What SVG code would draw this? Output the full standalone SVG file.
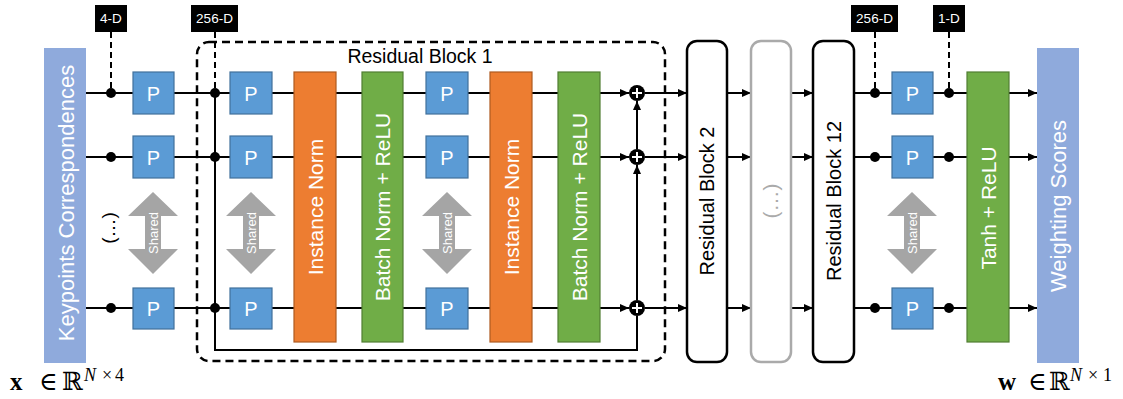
<svg xmlns="http://www.w3.org/2000/svg" width="1123" height="399" viewBox="0 0 1123 399">
<style>
.ln{stroke:#000;stroke-width:2;fill:none}
.dash{stroke:#000;stroke-width:2;fill:none;stroke-dasharray:6 4}
.io{fill:#8faadc}
.p{fill:#5b9bd5;stroke:#41719c;stroke-width:1.2}
.or{fill:#ed7d31;stroke:#ae5a21;stroke-width:1.2}
.gr{fill:#70ad47;stroke:#507e32;stroke-width:1.2}
.sh{fill:#a5a5a5}
.rb{fill:#fff;stroke:#000;stroke-width:2.5}
.rbg{fill:#fff;stroke:#aaaaaa;stroke-width:2.5}
.dim{fill:#000}
.t{font-family:"Liberation Sans",Arial,sans-serif}
.wt{fill:#fff}
.ptxt{font-size:20px;text-anchor:middle}
.lbl{font-size:21px;text-anchor:middle}
.shtxt{font-size:13px;text-anchor:middle;fill:#fff}
.dtxt{font-size:13.5px;text-anchor:middle;fill:#fff}
.math{font-family:"Liberation Serif","DejaVu Serif",serif;font-size:25px;fill:#000}
.sup{font-size:18px}
</style>
<defs>
<marker id="ah" markerWidth="9" markerHeight="8" refX="9" refY="4" orient="auto" markerUnits="userSpaceOnUse"><path d="M0,0 L9,4 L0,8 z" fill="#000"/></marker>
</defs>

<g id="connectors">
<line class="ln" x1="86" y1="93" x2="629" y2="93" marker-end="url(#ah)"/>
<line class="ln" x1="86" y1="157" x2="629" y2="157" marker-end="url(#ah)"/>
<line class="ln" x1="86" y1="308" x2="629" y2="308" marker-end="url(#ah)"/>
<polyline class="ln" points="215,93 215,350 637,350 637,316"/>
<line class="ln" x1="637" y1="300" x2="637" y2="165" marker-end="url(#ah)"/>
<line class="ln" x1="637" y1="149" x2="637" y2="101" marker-end="url(#ah)"/>
<line class="ln" x1="645" y1="93" x2="687" y2="93" marker-end="url(#ah)"/>
<line class="ln" x1="645" y1="157" x2="687" y2="157" marker-end="url(#ah)"/>
<line class="ln" x1="645" y1="308" x2="687" y2="308" marker-end="url(#ah)"/>
<line class="ln" x1="727" y1="93" x2="751" y2="93" marker-end="url(#ah)"/>
<line class="ln" x1="727" y1="157" x2="751" y2="157" marker-end="url(#ah)"/>
<line class="ln" x1="727" y1="308" x2="751" y2="308" marker-end="url(#ah)"/>
<line class="ln" x1="791" y1="93" x2="813" y2="93" marker-end="url(#ah)"/>
<line class="ln" x1="791" y1="157" x2="813" y2="157" marker-end="url(#ah)"/>
<line class="ln" x1="791" y1="308" x2="813" y2="308" marker-end="url(#ah)"/>
<line class="ln" x1="854" y1="93" x2="1037" y2="93" marker-end="url(#ah)"/>
<line class="ln" x1="854" y1="157" x2="1037" y2="157" marker-end="url(#ah)"/>
<line class="ln" x1="854" y1="308" x2="1037" y2="308" marker-end="url(#ah)"/>
<line class="dash" x1="111" y1="32" x2="111" y2="93"/>
<line class="dash" x1="215" y1="32" x2="215" y2="93"/>
<line class="dash" x1="875" y1="32" x2="875" y2="93"/>
<line class="dash" x1="949" y1="32" x2="949" y2="93"/>
<circle cx="111" cy="93" r="5" fill="#000"/>
<circle cx="111" cy="157" r="5" fill="#000"/>
<circle cx="111" cy="308" r="5" fill="#000"/>
<circle cx="215" cy="93" r="5" fill="#000"/>
<circle cx="215" cy="157" r="5" fill="#000"/>
<circle cx="215" cy="308" r="5" fill="#000"/>
<circle cx="875" cy="93" r="5" fill="#000"/>
<circle cx="875" cy="157" r="5" fill="#000"/>
<circle cx="875" cy="308" r="5" fill="#000"/>
<circle cx="949" cy="93" r="5" fill="#000"/>
<circle cx="949" cy="157" r="5" fill="#000"/>
<circle cx="949" cy="308" r="5" fill="#000"/>
</g>

<g id="residual-block-1-frame">
<rect x="197" y="42" width="468" height="319" rx="12" fill="none" stroke="#000" stroke-width="2.5" stroke-dasharray="8 5"/>
<text class="t" x="420" y="63" font-size="19.5" text-anchor="middle">Residual Block 1</text>
</g>

<g id="input">
<rect class="io" x="44" y="48" width="42" height="315"/>
<text class="t wt" font-size="22" text-anchor="middle" transform="translate(73.5,203) rotate(-90)">Keypoints Correspondences</text>
</g>
<g id="input-ellipsis">
<text class="t" font-size="19" text-anchor="middle" transform="translate(115,228) rotate(-90)">(…)</text>
</g>

<g id="dim-4d"><rect class="dim" x="95" y="5" width="32" height="27"/><text class="t dtxt" x="111" y="23">4-D</text></g>
<g id="dim-256d-a"><rect class="dim" x="191" y="5" width="47" height="27"/><text class="t dtxt" x="214.5" y="23">256-D</text></g>
<g id="dim-256d-b"><rect class="dim" x="851" y="5" width="47" height="27"/><text class="t dtxt" x="874.5" y="23">256-D</text></g>
<g id="dim-1d"><rect class="dim" x="933" y="5" width="32" height="27"/><text class="t dtxt" x="949" y="23">1-D</text></g>

<g id="p-col1">
<rect class="p" x="133" y="72" width="41" height="42"/><text class="t ptxt wt" x="153.5" y="100.5">P</text>
<rect class="p" x="133" y="136" width="41" height="42"/><text class="t ptxt wt" x="153.5" y="164.5">P</text>
<rect class="p" x="133" y="288" width="41" height="41"/><text class="t ptxt wt" x="153.5" y="315.5">P</text>
</g>
<g id="shared-col1">
<polygon class="sh" points="153,192 178,216 161,216 161,249 178,249 153,274 128,249 145,249 145,216 128,216"/>
<text class="t shtxt" transform="translate(158,233) rotate(-90)">Shared</text>
</g>

<g id="p-col2">
<rect class="p" x="230" y="72" width="42" height="42"/><text class="t ptxt wt" x="251" y="100.5">P</text>
<rect class="p" x="230" y="136" width="42" height="42"/><text class="t ptxt wt" x="251" y="164.5">P</text>
<rect class="p" x="230" y="288" width="42" height="41"/><text class="t ptxt wt" x="251" y="315.5">P</text>
</g>
<g id="shared-col2">
<polygon class="sh" points="251,192 276,216 259,216 259,249 276,249 251,274 226,249 243,249 243,216 226,216"/>
<text class="t shtxt" transform="translate(256,233) rotate(-90)">Shared</text>
</g>

<g id="instance-norm-1">
<rect class="or" x="294" y="72" width="42" height="270"/>
<text class="t lbl wt" transform="translate(322.5,207) rotate(-90)">Instance Norm</text>
</g>
<g id="batch-norm-relu-1">
<rect class="gr" x="362" y="72" width="41" height="270"/>
<text class="t lbl wt" transform="translate(390,207) rotate(-90)">Batch Norm + ReLU</text>
</g>

<g id="p-col3">
<rect class="p" x="426" y="72" width="42" height="42"/><text class="t ptxt wt" x="447" y="100.5">P</text>
<rect class="p" x="426" y="136" width="42" height="42"/><text class="t ptxt wt" x="447" y="164.5">P</text>
<rect class="p" x="426" y="288" width="42" height="41"/><text class="t ptxt wt" x="447" y="315.5">P</text>
</g>
<g id="shared-col3">
<polygon class="sh" points="447,192 472,216 455,216 455,249 472,249 447,274 422,249 439,249 439,216 422,216"/>
<text class="t shtxt" transform="translate(452,233) rotate(-90)">Shared</text>
</g>

<g id="instance-norm-2">
<rect class="or" x="490" y="72" width="42" height="270"/>
<text class="t lbl wt" transform="translate(518.5,207) rotate(-90)">Instance Norm</text>
</g>
<g id="batch-norm-relu-2">
<rect class="gr" x="558" y="72" width="42" height="270"/>
<text class="t lbl wt" transform="translate(586.5,207) rotate(-90)">Batch Norm + ReLU</text>
</g>

<g id="sum-nodes">
<circle cx="637" cy="93" r="8" fill="#000"/><path d="M632,93 H642 M637,88 V98" stroke="#fff" stroke-width="2"/>
<circle cx="637" cy="157" r="8" fill="#000"/><path d="M632,157 H642 M637,152 V162" stroke="#fff" stroke-width="2"/>
<circle cx="637" cy="308" r="8" fill="#000"/><path d="M632,308 H642 M637,303 V313" stroke="#fff" stroke-width="2"/>
</g>

<g id="residual-block-2">
<rect class="rb" x="687" y="41" width="40" height="321" rx="10"/>
<text class="t" font-size="20" text-anchor="middle" transform="translate(714,201) rotate(-90)">Residual Block 2</text>
</g>
<g id="residual-block-more">
<rect class="rbg" x="751" y="41" width="40" height="321" rx="10"/>
<text class="t" font-size="21" fill="#aaaaaa" text-anchor="middle" transform="translate(778,201) rotate(-90)">(…)</text>
</g>
<g id="residual-block-12">
<rect class="rb" x="813" y="41" width="41" height="321" rx="10"/>
<text class="t" font-size="20" text-anchor="middle" transform="translate(841,201) rotate(-90)">Residual Block 12</text>
</g>

<g id="p-col4">
<rect class="p" x="892" y="72" width="41" height="42"/><text class="t ptxt wt" x="912.5" y="100.5">P</text>
<rect class="p" x="892" y="136" width="41" height="42"/><text class="t ptxt wt" x="912.5" y="164.5">P</text>
<rect class="p" x="892" y="288" width="41" height="41"/><text class="t ptxt wt" x="912.5" y="315.5">P</text>
</g>
<g id="shared-col4">
<polygon class="sh" points="912,192 937,216 920,216 920,249 937,249 912,274 887,249 904,249 904,216 887,216"/>
<text class="t shtxt" transform="translate(917,233) rotate(-90)">Shared</text>
</g>

<g id="tanh-relu">
<rect class="gr" x="967" y="72" width="42" height="270"/>
<text class="t lbl wt" transform="translate(995.5,208) rotate(-90)">Tanh + ReLU</text>
</g>

<g id="output">
<rect class="io" x="1037" y="48" width="42" height="315"/>
<text class="t wt" font-size="22" text-anchor="middle" transform="translate(1066,206) rotate(-90)">Weighting Scores</text>
</g>

<g id="input-dim-label">
<text class="math" y="390"><tspan x="10" font-weight="bold">x</tspan><tspan x="39">∈</tspan><tspan x="62">ℝ</tspan><tspan class="sup" x="84" y="381" font-style="italic">N</tspan><tspan class="sup" x="102" y="381">×</tspan><tspan class="sup" x="115" y="381">4</tspan></text>
</g>
<g id="output-dim-label">
<text class="math" y="390"><tspan x="998" font-weight="bold">w</tspan><tspan x="1028">∈</tspan><tspan x="1049">ℝ</tspan><tspan class="sup" x="1070" y="381" font-style="italic">N</tspan><tspan class="sup" x="1088" y="381">×</tspan><tspan class="sup" x="1103" y="381">1</tspan></text>
</g>
</svg>
